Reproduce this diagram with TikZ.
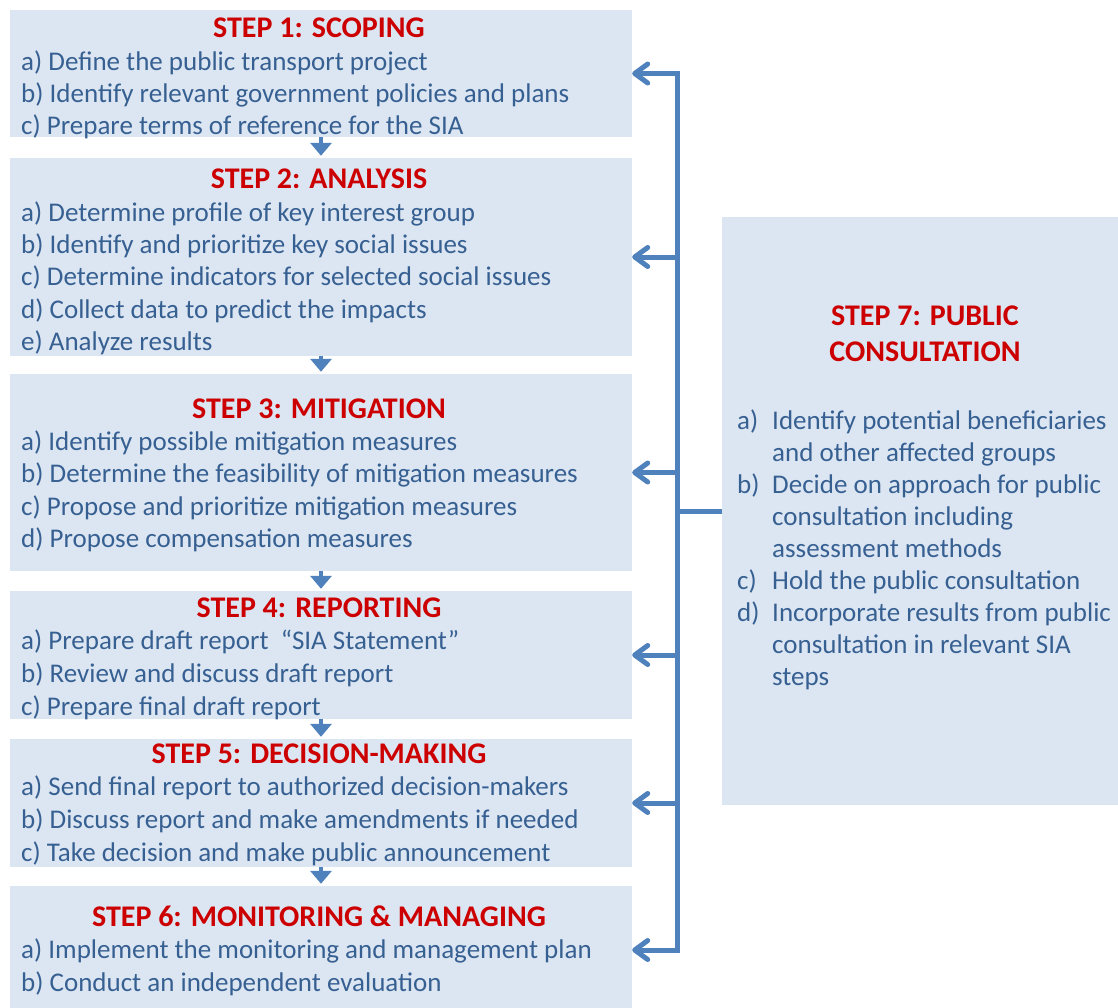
\documentclass[tikz,border=0pt]{standalone}
\usepackage{fontspec}
\setmainfont{Carlito}
\usetikzlibrary{arrows.meta}
\definecolor{MyBlue}{RGB}{79, 129, 189}
\definecolor{MyFill}{RGB}{220, 230, 242}
\definecolor{MyText}{RGB}{55, 96, 146}
\definecolor{MyRed}{RGB}{204, 0, 0}
\newcommand{\lw}{5pt}

\begin{document}
\begin{tikzpicture}[x=1pt, y=-1pt,
  stepbox/.style={fill=MyFill, inner sep=0pt, minimum width=622pt},
  head/.style={text=MyRed, font=\fontsize{30}{36}\selectfont\bfseries, anchor=base, inner sep=0pt},
  item/.style={text=MyText, font=\fontsize{27}{32}\selectfont, anchor=base west, inner sep=0pt},
  feed/.style={draw=MyBlue, line width=\lw, -{Straight Barb[length=13pt, width=19pt, round]}},
  down/.style={draw=MyBlue, line width=3.5pt, -{Triangle[length=13pt, width=21pt]}, shorten >=2pt}]
  \useasboundingbox (0,0) rectangle (1118,1007);

  % the six steps on the left
  \node[stepbox, minimum height=127pt] (s1) at (321,73.5) {};
  \node[stepbox, minimum height=198pt] (s2) at (321,257) {};
  \node[stepbox, minimum height=197pt] (s3) at (321,472.5) {};
  \node[stepbox, minimum height=128pt] (s4) at (321,655) {};
  \node[stepbox, minimum height=128pt] (s5) at (321,803) {};
  \node[stepbox, minimum height=128pt] (s6) at (321,950) {};
  % consultation box
  \node[stepbox, minimum width=396pt, minimum height=588pt] (s7) at (920,511) {};

  \node[head] (h1) at (319,37)  {STEP 1: SCOPING};
  \node[head] (h2) at (319,188) {STEP 2: ANALYSIS};
  \node[head] (h3) at (319,418) {STEP 3: MITIGATION};
  \node[head] (h4) at (319,617) {STEP 4: REPORTING};
  \node[head] (h5) at (319,763) {STEP 5: DECISION-MAKING};
  \node[head] (h6) at (319,926) {STEP 6: MONITORING \& MANAGING};
  \node[head, anchor=center, align=center] (h7) at (925,334) {STEP 7: PUBLIC\\CONSULTATION};

  \foreach \t [count=\i] in {a) Define the public transport project,
      b) Identify relevant government policies and plans,
      c) Prepare terms of reference for the SIA}
    \node[item] (s1-\i) at (21,{70+32.2*(\i-1)}) {\t};
  \foreach \t [count=\i] in {a) Determine profile of key interest group,
      b) Identify and prioritize key social issues,
      c) Determine indicators for selected social issues,
      d) Collect data to predict the impacts,
      e) Analyze results}
    \node[item] (s2-\i) at (21,{221+32.4*(\i-1)}) {\t};
  \foreach \t [count=\i] in {a) Identify possible mitigation measures,
      b) Determine the feasibility of mitigation measures,
      c) Propose and prioritize mitigation measures,
      d) Propose compensation measures}
    \node[item] (s3-\i) at (21,{450+32.6*(\i-1)}) {\t};
  \foreach \t [count=\i] in {a) Prepare draft report \ ``SIA Statement'',
      b) Review and discuss draft report,
      c) Prepare final draft report}
    \node[item] (s4-\i) at (21,{649+33*(\i-1)}) {\t};
  \foreach \t [count=\i] in {a) Send final report to authorized decision-makers,
      b) Discuss report and make amendments if needed,
      c) Take decision and make public announcement}
    \node[item] (s5-\i) at (21,{795+33*(\i-1)}) {\t};
  \foreach \t [count=\i] in {a) Implement the monitoring and management plan,
      b) Conduct an independent evaluation}
    \node[item] (s6-\i) at (21,{958+33*(\i-1)}) {\t};
  \foreach \l/\t [count=\i] in {a)/Identify potential beneficiaries,
      /and other affected groups,
      b)/Decide on approach for public,
      /consultation including,
      /assessment methods,
      c)/Hold the public consultation,
      d)/Incorporate results from public,
      /consultation in relevant SIA,
      /steps}
    {
    \node[item] (s7-l\i) at (737,{429+32*(\i-1)}) {\l};
    \node[item] (s7-\i) at (772,{429+32*(\i-1)}) {\t};
    }

  % flow down the steps
  \foreach \i [evaluate=\i as \j using int(\i+1)] in {1,...,5}
    \draw[down] (s\i.south) -- (s\j.north);

  % feedback from the consultation
  \coordinate (bus) at (677,0);
  \draw[MyBlue, line width=\lw, line cap=rect] (s1.east -| bus) -- (s6.east -| bus);
  \draw[MyBlue, line width=\lw] (s7.west) -- (s7.west -| bus);
  \foreach \i in {1,...,6}
    \draw[feed] (s\i.east -| bus) -- (s\i.east);
\end{tikzpicture}
\end{document}
